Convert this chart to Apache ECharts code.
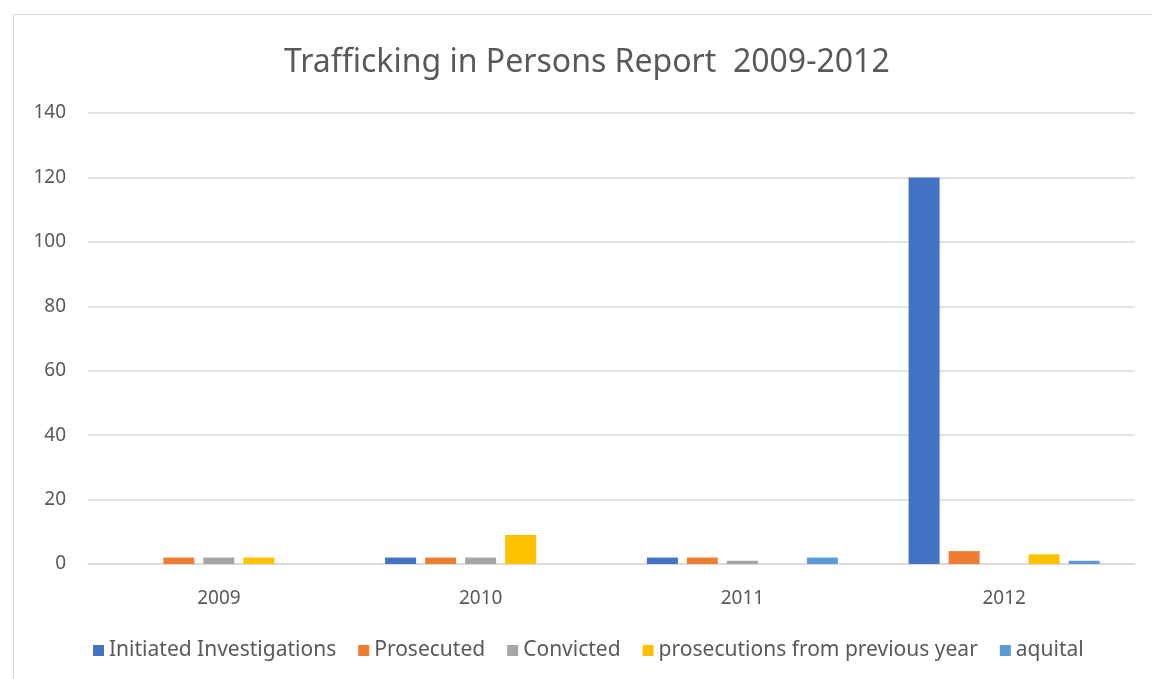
<!DOCTYPE html>
<html>
<head>
<meta charset="utf-8">
<script src="https://cdn.jsdelivr.net/npm/echarts@6/dist/echarts.min.js"></script>
<style>
  html, body { margin: 0; padding: 0; background: #ffffff; }
  #chart { width: 1152px; height: 679px; }
</style>
</head>
<body>
<div id="chart"></div>
<script>
// Report years and counts per category
const years = ['2009', '2010', '2011', '2012'];
const initiatedInvestigations = [0, 2, 2, 120];
const prosecuted = [2, 2, 2, 4];
const convicted = [2, 2, 1, 0];
const prosecutionsPreviousYear = [2, 9, 0, 3];
const aquital = [0, 0, 2, 1];

const seriesNames = ['Initiated Investigations', 'Prosecuted', 'Convicted', 'prosecutions from previous year', 'aquital'];
const seriesData = [initiatedInvestigations, prosecuted, convicted, prosecutionsPreviousYear, aquital];
const palette = ['#4472C4', '#ED7D31', '#A5A5A5', '#FFC000', '#5B9BD5'];

const FONT = "'Noto Sans', 'Open Sans', sans-serif";
const TEXT = '#595959';

const chart = echarts.init(document.getElementById('chart'), null, { renderer: 'canvas' });

chart.setOption({
  backgroundColor: '#ffffff',
  animation: false,
  color: palette,
  graphic: [{
    type: 'rect',
    shape: { x: 13.5, y: 14.5, width: 1200, height: 700 },
    style: { fill: 'none', stroke: '#d9d9d9', lineWidth: 1 },
    silent: true
  }],
  title: {
    text: 'Trafficking in Persons Report  2009-2012',
    left: 284,
    top: 47,
    padding: 0,
    textStyle: { fontFamily: FONT, fontSize: 32, fontWeight: 'normal', color: TEXT }
  },
  legend: {
    data: seriesNames,
    top: 640,
    left: 93,
    padding: 0,
    icon: 'rect',
    itemWidth: 11,
    itemHeight: 11,
    itemGap: 22,
    textStyle: { fontFamily: FONT, fontSize: 21, color: TEXT }
  },
  grid: { left: 88, right: 17, top: 113, bottom: 115, containLabel: false },
  xAxis: {
    type: 'category',
    data: years,
    axisLine: { lineStyle: { color: '#d9d9d9', width: 1.5 } },
    axisTick: { show: false },
    axisLabel: { fontFamily: FONT, fontSize: 19, color: TEXT, margin: 25 }
  },
  yAxis: {
    type: 'value',
    min: 0,
    max: 140,
    interval: 20,
    axisLine: { show: false },
    axisTick: { show: false },
    splitLine: { lineStyle: { color: '#d9d9d9', width: 1.5 } },
    axisLabel: { fontFamily: FONT, fontSize: 19, color: TEXT, margin: 22 }
  },
  series: seriesNames.map((name, i) => ({
    name: name,
    type: 'bar',
    data: seriesData[i],
    barGap: '29%',
    barCategoryGap: '27%',
    itemStyle: { color: palette[i] }
  }))
});
</script>
</body>
</html>
